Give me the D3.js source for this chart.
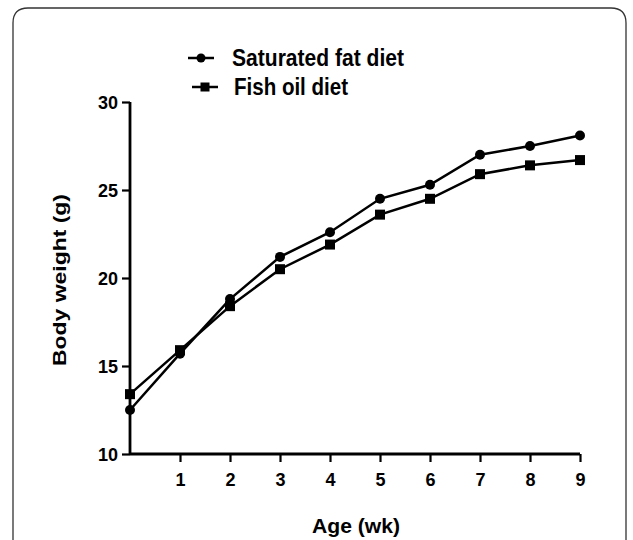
<!DOCTYPE html>
<html><head><meta charset="utf-8">
<script src="https://cdn.jsdelivr.net/npm/d3@7"></script>
<style>body{margin:0;background:#fff}svg{display:block}text{font-family:"Liberation Sans",Arial,sans-serif}</style>
</head><body><svg id="c" width="633" height="540"></svg>
<script>
const weeks = [0,1,2,3,4,5,6,7,8,9];
const saturatedFat = [12.5,15.7,18.8,21.2,22.6,24.5,25.3,27.0,27.5,28.1];
const fishOil = [13.4,15.9,18.4,20.5,21.9,23.6,24.5,25.9,26.4,26.7];
const yTicks = [10,15,20,25,30];
const xTicks = [1,2,3,4,5,6,7,8,9];
const seriesNames = ["Saturated fat diet","Fish oil diet"];

const svg = d3.select("#c");
// frame
svg.append("path").attr("d","M13,560 L13,23 Q13,8 28,8 L611,8 Q626,8 626,23 L626,560")
  .attr("fill","none").attr("stroke","#333").attr("stroke-width",1.3);

const x = d3.scaleLinear().domain([0,9]).range([130,580]);
const y = d3.scaleLinear().domain([10,30]).range([454,102]);

const yAxis = svg.append("g").attr("transform","translate(130,0)")
  .call(d3.axisLeft(y).tickValues(yTicks).tickSize(8).tickPadding(4));
const xAxis = svg.append("g").attr("transform","translate(0,454)")
  .call(d3.axisBottom(x).tickValues(xTicks).tickSize(8).tickPadding(11));
[yAxis,xAxis].forEach(g=>{
  g.select(".domain").attr("stroke","#000").attr("stroke-width",2.8);
  g.selectAll(".tick line").attr("stroke","#000").attr("stroke-width",2.2);
  g.selectAll(".tick text").attr("fill","#000").style("font-size","18px").style("font-weight","bold")
    .style("font-family","Liberation Sans, Arial, sans-serif");
});
yAxis.selectAll(".tick text").attr("dy","0.36em");
xAxis.select(".domain").attr("d",`M${x(0)},0H${x(9)}`);
yAxis.select(".domain").attr("d",`M0,${y(30)}V${y(10)}`);

const line = d3.line().x((d,i)=>x(weeks[i])).y(d=>y(d));
function drawSeries(vals, shape){
  svg.append("path").datum(vals).attr("d",line).attr("fill","none")
    .attr("stroke","#000").attr("stroke-width",2.5);
  const g = svg.append("g");
  vals.forEach((v,i)=>{
    if(shape==="circle") g.append("circle").attr("cx",x(weeks[i])).attr("cy",y(v)).attr("r",5).attr("fill","#000");
    else g.append("rect").attr("x",x(weeks[i])-5).attr("y",y(v)-5).attr("width",10).attr("height",10).attr("fill","#000");
  });
}
drawSeries(saturatedFat,"circle");
drawSeries(fishOil,"square");

// legend
const leg = [[58,188,232,172,"circle"],[87,192,234,114,"square"]];
leg.forEach(([ly,lx,tx,tw,shape],i)=>{
  svg.append("line").attr("x1",lx).attr("x2",lx+26).attr("y1",ly).attr("y2",ly).attr("stroke","#000").attr("stroke-width",2.5);
  if(shape==="circle") svg.append("circle").attr("cx",lx+13).attr("cy",ly).attr("r",4.5).attr("fill","#000");
  else svg.append("rect").attr("x",lx+8.5).attr("y",ly-4.5).attr("width",9).attr("height",9).attr("fill","#000");
  svg.append("text").attr("x",tx).attr("y",ly+8).style("font-size","23px").style("font-weight","bold")
    .attr("textLength",tw).attr("lengthAdjust","spacingAndGlyphs").text(seriesNames[i]);
});

svg.append("text").attr("x",356).attr("y",533).attr("text-anchor","middle").style("font-size","20px").style("font-weight","bold")
  .attr("textLength",88).attr("lengthAdjust","spacingAndGlyphs").text("Age (wk)");
svg.append("text").attr("transform","translate(66,280) rotate(-90)").attr("text-anchor","middle").style("font-size","19px").style("font-weight","bold")
  .attr("textLength",172).attr("lengthAdjust","spacingAndGlyphs").text("Body weight (g)");
</script></body></html>
